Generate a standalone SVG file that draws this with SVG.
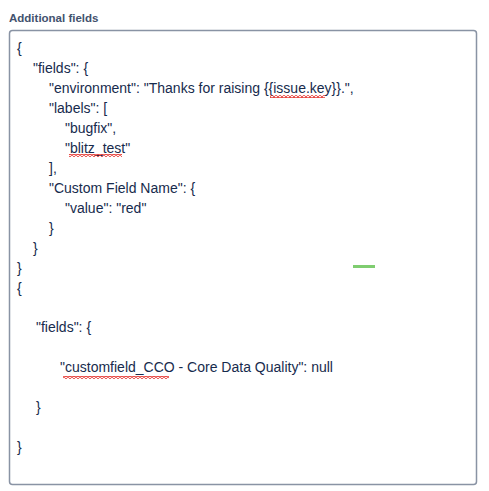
<svg xmlns="http://www.w3.org/2000/svg" width="489" height="491" viewBox="0 0 489 491">
<style>
.lbl{font-family:"Liberation Sans","Noto Sans",sans-serif;font-size:11.5px;font-weight:bold;fill:#42526e}
.code{font-family:"Liberation Sans","Noto Sans",sans-serif;font-size:14px;fill:#172b4d}
</style>
<defs>
<pattern id="wave" width="4" height="3" patternUnits="userSpaceOnUse">
<path d="M0 2.5 L2 0.5 L4 2.5" fill="none" stroke="#e5322d" stroke-width="1.2"/>
</pattern>
</defs>
<rect width="489" height="491" fill="#ffffff"/>
<g id="label"><text class="lbl" x="9" y="22">Additional fields</text></g>
<g id="field">
<rect x="9.5" y="30.5" width="467" height="454" rx="3" fill="#ffffff" stroke="#8993a4" stroke-width="1.5"/>
</g>
<g id="code">
<text class="code" x="17" y="53">{</text>
<text class="code" x="33" y="73">"fields": {</text>
<text class="code" x="49" y="93">"environment": "Thanks for raising {{issue.key}}.",</text>
<text class="code" x="49" y="113">"labels": [</text>
<text class="code" x="65" y="133">"bugfix",</text>
<text class="code" x="65" y="153">"blitz_test"</text>
<text class="code" x="49" y="173">],</text>
<text class="code" x="49" y="193">"Custom Field Name": {</text>
<text class="code" x="65" y="213">"value": "red"</text>
<text class="code" x="49" y="233">}</text>
<text class="code" x="33" y="253">}</text>
<text class="code" x="17" y="273">}</text>
<text class="code" x="17" y="293">{</text>
<text class="code" x="36" y="332">"fields": {</text>
<text class="code" x="60" y="372">"customfield_CCO - Core Data Quality": null</text>
<text class="code" x="36" y="412">}</text>
<text class="code" x="17" y="452">}</text>
</g>
<g id="spelling">
<rect x="270" y="95" width="55" height="3" fill="url(#wave)"/>
<rect x="69" y="154" width="53" height="3" fill="url(#wave)"/>
<rect x="63" y="376" width="106" height="3" fill="url(#wave)"/>
</g>
<rect id="marker" x="353" y="265" width="22" height="3" fill="#7fcd70"/>
</svg>
